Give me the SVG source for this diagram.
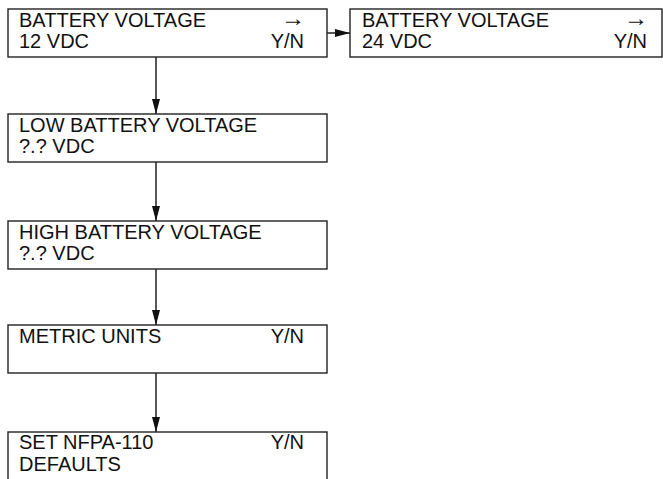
<svg xmlns="http://www.w3.org/2000/svg" width="663" height="479" viewBox="0 0 663 479">
<style>
.box{fill:#fff;stroke:#222;stroke-width:1.4}
.t{font-family:"Liberation Sans",Arial,sans-serif;font-size:20px;fill:#111}
.e{text-anchor:end}
.ar{font-size:24px}
.c{stroke:#111;stroke-width:1.4;fill:none}
</style>
<defs>
<marker id="ah" viewBox="0 0 15 8" refX="15" refY="4" markerWidth="15" markerHeight="8" markerUnits="userSpaceOnUse" orient="auto">
<path d="M0,0 L15,4 L0,8 Z" fill="#111"/>
</marker>
</defs>
<g id="connectors">
<line class="c" x1="327" y1="33" x2="350" y2="33" marker-end="url(#ah)"/>
<line class="c" x1="156" y1="57" x2="156" y2="114" marker-end="url(#ah)"/>
<line class="c" x1="156" y1="162" x2="156" y2="221" marker-end="url(#ah)"/>
<line class="c" x1="156" y1="269" x2="156" y2="325" marker-end="url(#ah)"/>
<line class="c" x1="156" y1="373" x2="156" y2="432" marker-end="url(#ah)"/>
</g>
<g id="n1">
<rect class="box" x="8" y="9" width="319" height="48"/>
<text class="t" x="19" y="27">BATTERY VOLTAGE</text>
<text class="t e ar" x="305" y="26">→</text>
<text class="t" x="19" y="48">12 VDC</text>
<text class="t e" x="304" y="48">Y/N</text>
</g>
<g id="n2">
<rect class="box" x="350" y="9" width="312" height="48"/>
<text class="t" x="362" y="27">BATTERY VOLTAGE</text>
<text class="t e ar" x="648" y="26">→</text>
<text class="t" x="362" y="48">24 VDC</text>
<text class="t e" x="647" y="48">Y/N</text>
</g>
<g id="n3">
<rect class="box" x="8" y="114" width="319" height="48"/>
<text class="t" x="19" y="132">LOW BATTERY VOLTAGE</text>
<text class="t" x="19" y="153">?.? VDC</text>
</g>
<g id="n4">
<rect class="box" x="8" y="221" width="319" height="48"/>
<text class="t" x="19" y="239">HIGH BATTERY VOLTAGE</text>
<text class="t" x="19" y="260">?.? VDC</text>
</g>
<g id="n5">
<rect class="box" x="8" y="325" width="319" height="48"/>
<text class="t" x="19" y="343">METRIC UNITS</text>
<text class="t e" x="304" y="343">Y/N</text>
</g>
<g id="n6">
<rect class="box" x="8" y="432" width="319" height="60"/>
<text class="t" x="19" y="449">SET NFPA-110</text>
<text class="t e" x="304" y="449">Y/N</text>
<text class="t" x="19" y="471">DEFAULTS</text>
</g>
</svg>
